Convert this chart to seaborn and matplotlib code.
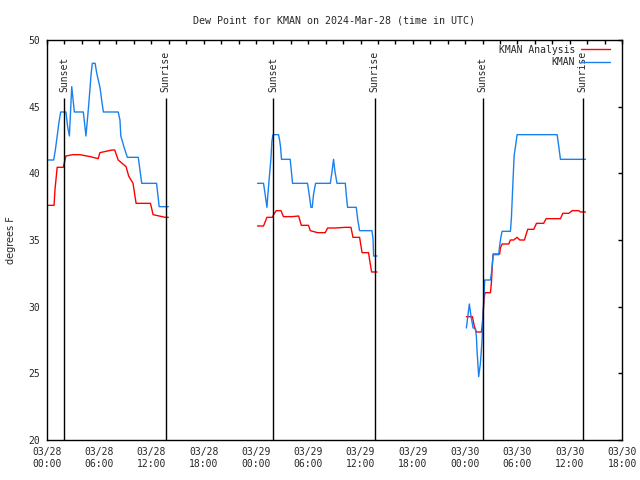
import pandas as pd
import numpy as np
import matplotlib
matplotlib.use("Agg")
import matplotlib.pyplot as plt
import matplotlib.dates as mdates
from matplotlib.lines import Line2D
import seaborn as sns

# hours after 2024-03-28 00:00 UTC, dew point in F
kman_hours = [
    [0.2, 0.8, 1.0, 1.2, 1.4, 1.6, 2.2, 2.4, 2.6, 2.87, 3.17, 4.2, 4.5, 4.8, 5.1, 5.23,
     5.55, 5.74, 6.12, 6.3, 6.5, 8.2, 8.4, 8.5, 8.9, 9.25, 10.5, 10.9, 12.6, 12.9, 13.95],
    [24.18, 24.87, 25.06, 25.26, 25.37, 25.56, 25.72, 25.83, 25.95, 26.59, 26.7, 26.82,
     26.93, 27.93, 28.05, 28.2, 29.92, 30.11, 30.31, 30.46, 30.6, 30.84, 32.53, 32.72,
     32.9, 33.07, 33.3, 34.25, 34.36, 34.51, 35.51, 35.66, 35.89, 37.31, 37.43, 37.5, 37.89],
    [48.14, 48.48, 48.68, 48.91, 49.17, 49.29, 49.37, 49.48, 49.55, 49.75, 49.94, 50.06,
     50.24, 50.9, 51.01, 51.13, 51.21, 51.85, 51.96, 52.12, 52.24, 53.19, 53.3, 53.42,
     53.54, 53.62, 53.77, 53.96, 58.55, 58.74, 58.93, 61.8],
]
kman_dewp = [
    [41.0, 41.0, 41.8, 42.8, 43.8, 44.6, 44.6, 43.5, 42.8, 46.5, 44.6, 44.6, 42.8, 45.0,
     47.5, 48.25, 48.25, 47.5, 46.4, 45.5, 44.6, 44.6, 44.0, 42.8, 41.9, 41.2, 41.2,
     39.25, 39.25, 37.5, 37.5],
    [39.25, 39.25, 38.4, 37.45, 38.4, 39.9, 41.1, 42.4, 42.9, 42.9, 42.55, 42.0, 41.05,
     41.05, 40.25, 39.25, 39.25, 38.4, 37.45, 37.45, 38.4, 39.25, 39.25, 40.1, 41.05,
     40.1, 39.25, 39.25, 38.4, 37.45, 37.45, 36.6, 35.7, 35.7, 35.1, 33.8, 33.8],
    [28.4, 30.2, 29.25, 28.4, 28.4, 27.75, 26.6, 25.5, 24.75, 25.75, 27.5, 29.5, 32.0,
     32.0, 32.5, 33.3, 33.9, 33.9, 34.6, 35.3, 35.65, 35.65, 36.6, 38.4, 40.2, 41.35,
     42.0, 42.9, 42.9, 42.0, 41.05, 41.05],
]
anal_hours = [
    [0.2, 0.84, 0.95, 1.2, 1.9, 2.2, 3.0, 3.8, 5.0, 5.9, 6.1, 7.5, 7.8, 8.2, 9.1, 9.4,
     9.9, 10.25, 11.9, 12.2, 13.6, 13.95],
    [24.18, 24.87, 25.26, 25.9, 26.02, 26.33, 26.87, 27.16, 28.13, 28.9, 29.2, 30.03,
     30.23, 31.07, 31.95, 32.22, 33.1, 34.25, 34.9, 35.13, 35.89, 36.17, 36.92, 37.04,
     37.27, 37.89],
    [48.14, 48.83, 49.09, 49.29, 49.86, 49.94, 50.06, 50.17, 50.28, 50.9, 51.01, 51.13,
     51.21, 51.96, 52.04, 52.24, 53.0, 53.19, 53.57, 53.96, 54.26, 54.8, 55.03, 55.18,
     55.87, 56.18, 57.0, 57.29, 58.93, 59.2, 59.88, 60.28, 61.04, 61.23, 61.8],
]
anal_dewp = [
    [37.6, 37.6, 38.8, 40.45, 40.45, 41.3, 41.4, 41.4, 41.25, 41.1, 41.55, 41.75, 41.75,
     41.0, 40.5, 39.8, 39.25, 37.75, 37.75, 36.9, 36.7, 36.7],
    [36.05, 36.05, 36.7, 36.7, 36.9, 37.2, 37.2, 36.75, 36.75, 36.8, 36.1, 36.1, 35.7,
     35.55, 35.55, 35.9, 35.9, 35.95, 35.95, 35.2, 35.2, 34.05, 34.05, 33.5, 32.6, 32.6],
    [29.25, 29.25, 28.4, 28.1, 28.1, 28.5, 29.5, 30.6, 31.05, 31.05, 31.8, 33.25, 33.95,
     33.95, 34.4, 34.7, 34.7, 35.0, 35.0, 35.2, 35.0, 35.0, 35.5, 35.8, 35.8, 36.25,
     36.25, 36.6, 36.6, 37.0, 37.0, 37.2, 37.2, 37.1, 37.1],
]
sun_hours = [2.02, 13.66, 26.0, 37.6, 50.0, 61.5]
sun_labels = ["Sunset", "Sunrise", "Sunset", "Sunrise", "Sunset", "Sunrise"]

start = pd.Timestamp("2024-03-28 00:00")
end = pd.Timestamp("2024-03-30 18:00")

rows = []
for name, hrs, vals in [("KMAN Analysis", anal_hours, anal_dewp), ("KMAN", kman_hours, kman_dewp)]:
    for seg, (h, v) in enumerate(zip(hrs, vals)):
        for hh, vv in zip(h, v):
            rows.append({"series": name, "seg": seg, "time": start + pd.Timedelta(hours=hh), "dewp": vv})
df = pd.DataFrame(rows)

colors = {"KMAN Analysis": "#ff0000", "KMAN": "#1a80f0"}
mono = "DejaVu Sans Mono"

sns.set_style("white")
fig = plt.figure(figsize=(6.4, 4.8), dpi=100)
ax = fig.add_axes([0.073, 0.0833, 0.899, 0.8334])

sns.lineplot(data=df, x="time", y="dewp", hue="series", units="seg", estimator=None,
             palette=colors, sort=False, lw=1.0, legend=False, ax=ax)

sun_times = [start + pd.Timedelta(hours=h) for h in sun_hours]
ax.vlines(sun_times, 20, 45.65, color="black", lw=1.0)
for t, lab in zip(sun_times, sun_labels):
    ax.text(t, 46.1, lab, rotation=90, ha="center", va="bottom", fontsize=7, family=mono)

ax.set_xlim(start, end)
ax.set_ylim(20, 50)
ax.set_yticks(np.arange(20, 51, 5))
ax.xaxis.set_major_locator(mdates.HourLocator(byhour=[0, 6, 12, 18]))
ax.xaxis.set_major_formatter(mdates.DateFormatter("%m/%d\n%H:%M"))
ax.xaxis.set_minor_locator(mdates.HourLocator(interval=2))
ax.tick_params(which="both", direction="in", top=True, right=True, length=3, width=1,
               color="black")
ax.tick_params(axis="x", pad=5, labelsize=7)
ax.tick_params(axis="y", pad=5, labelsize=7)
for lab in ax.get_xticklabels() + ax.get_yticklabels():
    lab.set_family(mono)

for sp in ax.spines.values():
    sp.set_color("black")
    sp.set_linewidth(1.0)

ax.set_xlabel("")
ax.set_ylabel("degrees F", fontsize=7, labelpad=9)
ax.set_title("Dew Point for KMAN on 2024-Mar-28 (time in UTC)", fontsize=7.2,
             family=mono, pad=12)

handles = [Line2D([], [], color=colors[k], lw=1.0, label=k) for k in ["KMAN Analysis", "KMAN"]]
leg = ax.legend(handles=handles, loc="upper right", bbox_to_anchor=(0.988, 1.0),
                markerfirst=False, frameon=False,
                prop={"family": mono, "size": 7}, handlelength=3.0, handletextpad=0.6,
                labelspacing=0.25, borderaxespad=0.1)

fig.savefig("out.png", dpi=100)
